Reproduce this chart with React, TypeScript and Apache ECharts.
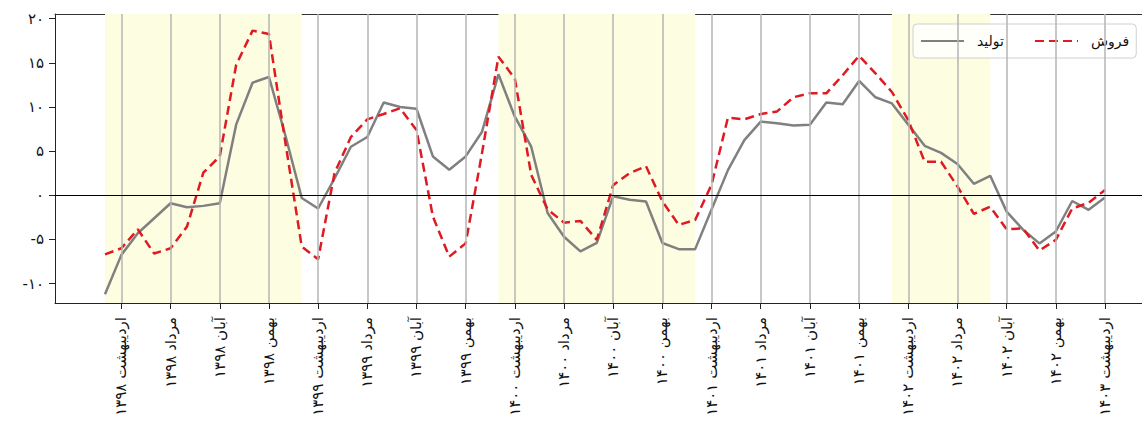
import React, { useEffect, useRef } from "react";
import * as echarts from "echarts";

// Monthly values, index 0 = فروردین ۱۳۹۸ ... index 61 = اردیبهشت ۱۴۰۳
const production = [
  -11.2, -6.75, -4.3, -2.6, -0.9, -1.35, -1.2, -0.9, 8.0, 12.75,
  13.4, 6.8, -0.3, -1.5, 1.9, 5.5, 6.6, 10.5, 10.0, 9.8,
  4.4, 2.9, 4.4, 7.2, 13.7, 8.9, 5.5, -2.0, -4.7, -6.35,
  -5.4, -0.1, -0.5, -0.7, -5.4, -6.1, -6.1, -1.6, 2.85, 6.25,
  8.35, 8.15, 7.9, 8.0, 10.5, 10.3, 12.95, 11.1, 10.4, 8.0,
  5.6, 4.8, 3.55, 1.3, 2.2, -1.85, -3.9, -5.45, -4.1, -0.65,
  -1.65, -0.25,
];

const sales = [
  -6.7, -6.0, -3.85, -6.6, -6.0, -3.55, 2.56, 4.4, 14.75, 18.65,
  18.27, 6.0, -5.8, -7.25, 2.5, 6.6, 8.6, 9.2, 9.85, 7.4,
  -2.4, -6.95, -5.45, 4.8, 15.7, 13.2, 2.3, -1.6, -3.1, -2.9,
  -5.05, 1.15, 2.5, 3.3, -0.7, -3.35, -2.8, 1.2, 8.8, 8.6,
  9.2, 9.5, 11.1, 11.55, 11.55, 13.6, 15.8, 13.8, 11.7, 8.5,
  3.8, 3.8, 1.0, -2.1, -1.3, -3.85, -3.75, -6.25, -5.05, -1.5,
  -0.85, 0.6,
];

const tickLabels = [
  "اردیبهشت ۱۳۹۸", "مرداد ۱۳۹۸", "آبان ۱۳۹۸", "بهمن ۱۳۹۸",
  "اردیبهشت ۱۳۹۹", "مرداد ۱۳۹۹", "آبان ۱۳۹۹", "بهمن ۱۳۹۹",
  "اردیبهشت ۱۴۰۰", "مرداد ۱۴۰۰", "آبان ۱۴۰۰", "بهمن ۱۴۰۰",
  "اردیبهشت ۱۴۰۱", "مرداد ۱۴۰۱", "آبان ۱۴۰۱", "بهمن ۱۴۰۱",
  "اردیبهشت ۱۴۰۲", "مرداد ۱۴۰۲", "آبان ۱۴۰۲", "بهمن ۱۴۰۲",
  "اردیبهشت ۱۴۰۳",
];
// month index of each tick label
const tickMonths = [1, 4, 7, 10, 13, 16, 19, 22, 25, 28, 31, 34, 37, 40, 43, 46, 49, 52, 55, 58, 61];

// shaded month spans
const shadedSpans = [
  [0, 12],
  [24, 36],
  [48, 54],
];

const yTicks = [-10, -5, 0, 5, 10, 15, 20];

const seriesNames = ["تولید", "فروش"];

const FONT = "DejaVu Sans";
const toFa = (s: string | number) =>
  String(s).replace(/\d/g, (d) => "۰۱۲۳۴۵۶۷۸۹"[+d]);

export default function App() {
  const ref = useRef<HTMLDivElement>(null);

  useEffect(() => {
    if (!ref.current) return;
    const chart = echarts.init(ref.current, undefined, { renderer: "svg" });

    const X_MIN = -3.05;
    const X_MAX = 64.05;

    const option: any = {
      animation: false,
      backgroundColor: "#ffffff",
      textStyle: { fontFamily: FONT },
      grid: {
        left: 55,
        top: 14,
        width: 1100,
        height: 289,
        containLabel: false,
        outerBoundsMode: "none",
        show: false,
      },
      legend: {
        data: seriesNames,
        left: 913,
        top: 24,
        width: 300,
        orient: "horizontal",
        itemWidth: 43,
        itemHeight: 14,
        itemGap: 30,
        padding: [10, 7, 10, 7],
        backgroundColor: "rgba(255,255,255,0.8)",
        borderColor: "#d0d0d0",
        borderWidth: 1,
        borderRadius: 4,
        itemStyle: { opacity: 0 },
        textStyle: {
          fontFamily: FONT,
          fontSize: 14,
          color: "#111",
          padding: [0, 0, 0, 8],
        },
      },
      xAxis: [
        {
          type: "value",
          min: X_MIN,
          max: X_MAX,
          position: "bottom",
          splitLine: { show: false },
          axisLine: { show: true, onZero: false, lineStyle: { color: "#222", width: 1 } },
          axisTick: {
            show: true,
            length: 6,
            customValues: tickMonths,
            lineStyle: { color: "#222", width: 1 },
          },
          axisLabel: {
            customValues: tickMonths,
            rotate: 90,
            margin: 14,
            fontSize: 15,
            fontFamily: FONT,
            color: "#111",
            formatter: (v: number) => {
              const i = tickMonths.indexOf(Math.round(v));
              return i >= 0 ? tickLabels[i] : "";
            },
          },
        },
        {
          type: "value",
          min: X_MIN,
          max: X_MAX,
          position: "top",
          splitLine: { show: false },
          axisLine: { show: true, onZero: false, lineStyle: { color: "#333", width: 1 } },
          axisTick: { show: false },
          axisLabel: { show: false },
        },
      ],
      yAxis: {
        type: "value",
        min: -12.2,
        max: 20.53,
        splitLine: { show: false },
        axisLine: { show: true, onZero: false, lineStyle: { color: "#222", width: 1 } },
        axisTick: {
          show: true,
          length: 6,
          customValues: yTicks,
          lineStyle: { color: "#222", width: 1 },
        },
        axisLabel: {
          customValues: yTicks,
          margin: 11,
          fontSize: 15,
          fontFamily: FONT,
          color: "#111",
          formatter: (v: number) => toFa(v),
        },
      },
      series: [
        {
          name: "shade",
          type: "line",
          data: [],
          z: 1,
          silent: true,
          markArea: {
            silent: true,
            itemStyle: { color: "#fdfde1" },
            data: shadedSpans.map(([a, b]) => [{ xAxis: a }, { xAxis: b }]),
          },
        },
        {
          name: "grid",
          type: "line",
          data: [],
          z: 2,
          silent: true,
          markLine: {
            silent: true,
            symbol: ["none", "none"],
            label: { show: false },
            lineStyle: { color: "#b5b5b5", width: 1.5, type: "solid" },
            data: [
              ...tickMonths.map((m) => ({ xAxis: m })),
              { yAxis: 0, lineStyle: { color: "#000", width: 1, type: "solid" } },
            ],
          },
        },
        {
          name: seriesNames[0],
          type: "line",
          z: 3,
          symbol: "none",
          data: production.map((v, i) => [i, v]),
          lineStyle: { color: "#808080", width: 2.5 },
          itemStyle: { color: "#808080" },
        },
        {
          name: seriesNames[1],
          type: "line",
          z: 4,
          symbol: "none",
          data: sales.map((v, i) => [i, v]),
          lineStyle: { color: "#de1a22", width: 2.5, type: [9, 5] },
          itemStyle: { color: "#de1a22" },
        },
      ],
    };

    chart.setOption(option);
    return () => chart.dispose();
  }, []);

  return (
    <div
      ref={ref}
      style={{ position: "fixed", left: 0, top: 0, width: 1142, height: 437 }}
    />
  );
}
